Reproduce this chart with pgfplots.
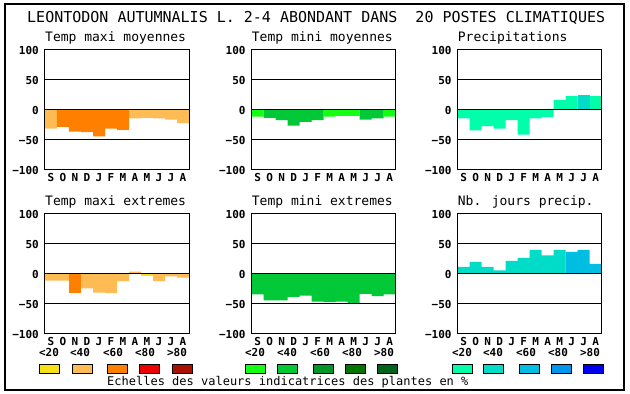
\documentclass[border=0pt]{standalone}
\usepackage{fontspec}
\usepackage{pgfplots}
\pgfplotsset{compat=1.18}
\newfontfamily\mono{DejaVu Sans Mono}
\newcommand\titlefont{\mono\fontsize{15}{15}\selectfont}
\newcommand\ptitlefont{\mono\fontsize{13}{13}\selectfont}
\newcommand\tickfont{\mono\bfseries\fontsize{11}{11}\selectfont}
\newcommand\footfont{\mono\fontsize{12}{12}\selectfont}
\definecolor{yel}{RGB}{248,224,24}
\definecolor{lor}{RGB}{255,188,85}
\definecolor{dor}{RGB}{255,128,0}
\definecolor{red1}{RGB}{238,0,0}
\definecolor{dred}{RGB}{170,17,0}
\definecolor{g1}{RGB}{20,255,20}
\definecolor{g2}{RGB}{0,200,55}
\definecolor{g3}{RGB}{0,150,40}
\definecolor{g4}{RGB}{0,120,0}
\definecolor{g5}{RGB}{0,100,30}
\definecolor{c1}{RGB}{0,255,170}
\definecolor{c2}{RGB}{0,220,200}
\definecolor{c3}{RGB}{0,190,225}
\definecolor{c4}{RGB}{0,150,235}
\definecolor{c5}{RGB}{0,0,240}
\pgfplotsset{
  panel/.style={
    scale only axis, width=144pt, height=120pt,
    anchor=south west,
    xmin=-0.5, xmax=11.5, ymin=-100, ymax=100,
    xtick={0,...,11}, xticklabels={S,O,N,D,J,F,M,A,M,J,J,A},
    ytick={-100,-50,0,50,100}, yticklabels={−100,−50,0,50,100},
    major tick length=0pt,
    ymajorgrids, grid style={black, line width=1pt},
    axis line style={line width=1pt},
    axis on top,
    tick label style={font=\tickfont},
    xticklabel style={anchor=north, inner sep=0pt, yshift=-3pt},
    yticklabel style={anchor=east, inner sep=0pt, xshift=-6pt},
    title style={at={(0,1)}, anchor=base west, inner sep=0pt, yshift=2pt, font=\ptitlefont},
  },
  bars/.style={ybar, bar width=1, bar shift=0pt, draw=none, fill=#1},
}
\begin{document}
\begin{tikzpicture}
\path[fill=white] (0,0) rectangle (630pt,394pt);
\draw[line width=1.2pt] (5pt,4pt) rectangle (624pt,390pt);
\node[anchor=base west, inner sep=0pt, font=\titlefont] at (27pt,371pt) {LEONTODON AUTUMNALIS L. 2-4 ABONDANT DANS\ \ 20 POSTES CLIMATIQUES};

% Panel 1
\begin{axis}[panel, at={(45pt,224pt)}, title={Temp maxi moyennes}]
\addplot[bars=lor] coordinates {(0,-31) (7,-14) (8,-13) (9,-14) (10,-16) (11,-22)};
\addplot[bars=dor] coordinates {(1,-28) (2,-36) (3,-37) (4,-44) (5,-31) (6,-33)};
\end{axis}

% Panel 2
\begin{axis}[panel, at={(251.7pt,224pt)}, title={Temp mini moyennes}]
\addplot[bars=g1] coordinates {(0,-11) (6,-11) (7,-10) (8,-10) (11,-11)};
\addplot[bars=g2] coordinates {(1,-13) (2,-17) (3,-26) (4,-20) (5,-17) (9,-16) (10,-14)};
\end{axis}

% Panel 3
\begin{axis}[panel, at={(457.7pt,224pt)}, title={Precipitations}]
\addplot[bars=c1] coordinates {(0,-14) (1,-34) (2,-27) (3,-31) (4,-17) (5,-41) (6,-14) (7,-12) (8,17) (9,23) (11,23)};
\addplot[bars=c2] coordinates {(10,25)};
\end{axis}

% Panel 4
\begin{axis}[panel, at={(45pt,60pt)}, title={Temp maxi extremes}]
\addplot[bars=lor] coordinates {(0,-11) (1,-11) (3,-24) (4,-31) (5,-32) (6,-12) (7,4) (9,-12) (10,-4) (11,-6)};
\addplot[bars=dor] coordinates {(2,-32)};
\addplot[bars=yel] coordinates {(8,-4)};
\end{axis}

% Panel 5
\begin{axis}[panel, at={(251.7pt,60pt)}, title={Temp mini extremes}]
\addplot[bars=g2] coordinates {(0,-34) (1,-44) (2,-44) (3,-38) (4,-36) (5,-46) (6,-47) (7,-46) (8,-49) (9,-33) (10,-37) (11,-34)};
\end{axis}

% Panel 6
\begin{axis}[panel, at={(457.7pt,60pt)}, title={Nb. jours precip.}]
\addplot[bars=c2] coordinates {(0,12) (1,20) (2,12) (3,6) (4,22) (5,27) (6,40) (7,31) (8,40)};
\addplot[bars=c3] coordinates {(9,37) (10,40) (11,17)};
\end{axis}

% Legends
\foreach \x/\l in {49/{<20},80/{<40},113/{<60},145/{<80},177/{>80},
                   255/{<20},287/{<40},320/{<60},352/{<80},384/{>80},
                   462/{<20},493/{<40},526/{<60},558/{<80},590/{>80}}
  \node[anchor=base, inner sep=0pt, font=\tickfont] at (\x pt,37pt) {\l};
\foreach \x/\c in {39/yel,72/lor,107/dor,139/red1,172/dred,
                   245/g1,277/g2,313/g3,345/g4,377/g5,
                   452/c1,483/c2,519/c3,551/c4,583/c5}
  \draw[fill=\c, line width=0.8pt] (\x pt,21pt) rectangle ++(20pt,9pt);
\node[anchor=base west, inner sep=0pt, font=\footfont] at (107pt,9pt) {Echelles des valeurs indicatrices des plantes en \%};
\end{tikzpicture}
\end{document}
